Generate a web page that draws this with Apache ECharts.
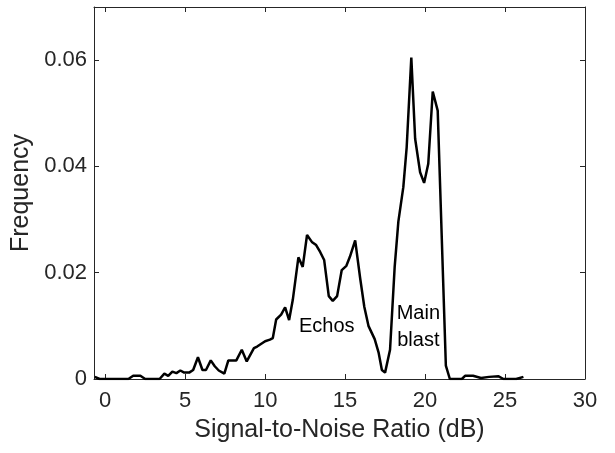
<!DOCTYPE html>
<html>
<head>
<meta charset="utf-8">
<script src="https://cdn.jsdelivr.net/npm/echarts/dist/echarts.min.js"></script>
<style>
  html, body { margin: 0; padding: 0; background: #fff; }
  #chart { width: 615px; height: 453px; }
</style>
</head>
<body>
<div id="chart"></div>
<script>
// SNR (dB) and frequency
var snr = [
  -0.65, -0.35, 1.45, 1.75, 2.2, 2.5, 3.4, 3.7, 3.94, 4.2,
  4.45, 4.7, 4.94, 5.25, 5.5, 5.8, 6.08, 6.3, 6.6, 6.85,
  7.1, 7.45, 7.7, 8.2, 8.54, 8.85, 9.3, 9.5, 10.0, 10.3,
  10.48, 10.69, 11.0, 11.25, 11.5, 11.73, 12.08, 12.35, 12.62, 12.92,
  13.19, 13.44, 13.69, 13.98, 14.23, 14.5, 14.79, 15.08, 15.3, 15.63,
  15.94, 16.2, 16.46, 16.85, 17.1, 17.3, 17.5, 17.81, 18.1, 18.33,
  18.64, 18.85, 19.14, 19.38, 19.69, 19.94, 20.2, 20.48, 20.79, 21.3,
  21.55, 22.3, 22.5, 23.0, 23.5, 24.0, 24.6, 24.9, 25.7, 26.15
];
var freq = [
  0.0004, 0, 0, 0.0006, 0.0006, 0, 0, 0.001, 0.0006, 0.0014,
  0.0011, 0.0016, 0.0012, 0.0012, 0.0017, 0.0041, 0.0017, 0.0017, 0.0035, 0.0024,
  0.0016, 0.001, 0.0035, 0.0035, 0.0055, 0.0033, 0.0058, 0.0061, 0.0071, 0.0074,
  0.0077, 0.0112, 0.0121, 0.0135, 0.0111, 0.0149, 0.0229, 0.0211, 0.0271, 0.0258,
  0.0252, 0.0239, 0.0224, 0.0156, 0.0147, 0.0156, 0.0205, 0.0213, 0.023, 0.0261,
  0.019, 0.0136, 0.01, 0.0075, 0.0049, 0.0017, 0.0012, 0.0055, 0.0211, 0.0296,
  0.0361, 0.0436, 0.0605, 0.0452, 0.0389, 0.0369, 0.0405, 0.0541, 0.0505, 0.0025,
  0, 0, 0.0006, 0.0006, 0.0002, 0.0004, 0.0005, 0, 0, 0.0004
];
var xTicks = [0, 5, 10, 15, 20, 25, 30];
var yTicks = [0, 0.02, 0.04, 0.06];
var notes = [
  { text: "Echos", x: 13.85, y: 0.0098 },
  { text: "Main\nblast", x: 19.58, y: 0.0097 }
];

var points = [];
for (var i = 0; i < snr.length; i++) {
  points.push([snr[i], freq[i]]);
}

var axisColor = "#262626";
var font = "Liberation Sans, Arial, Helvetica, sans-serif";

function xAx(pos, show) {
  return {
    type: "value", position: pos, min: -0.7, max: 30,
    name: show ? "Signal-to-Noise Ratio (dB)" : "",
    nameLocation: "middle", nameGap: 39,
    nameTextStyle: { color: axisColor, fontSize: 25, fontFamily: font },
    axisLine: { show: true, onZero: false, lineStyle: { color: axisColor, width: 1 } },
    axisTick: { show: true, inside: true, length: 5, customValues: xTicks, lineStyle: { color: axisColor } },
    axisLabel: { show: show, margin: 11, customValues: xTicks, color: axisColor, fontSize: 22, fontFamily: font },
    splitLine: { show: false }
  };
}
function yAx(pos, show) {
  return {
    type: "value", position: pos, min: 0, max: 0.07,
    name: show ? "Frequency" : "",
    nameLocation: "middle", nameGap: 59,
    nameTextStyle: { color: axisColor, fontSize: 25, fontFamily: font },
    axisLine: { show: true, onZero: false, lineStyle: { color: axisColor, width: 1 } },
    axisTick: { show: true, inside: true, length: 5, customValues: yTicks, lineStyle: { color: axisColor } },
    axisLabel: { show: show, margin: 7, customValues: yTicks, color: axisColor, fontSize: 22, fontFamily: font },
    splitLine: { show: false }
  };
}

var chart = echarts.init(document.getElementById("chart"));
chart.setOption({
  animation: false,
  grid: { left: 94, right: 30, top: 7, bottom: 74 },
  xAxis: [xAx("bottom", true), xAx("top", false)],
  yAxis: [yAx("left", true), yAx("right", false)],
  series: [
    {
      type: "line",
      data: points,
      showSymbol: false,
      symbol: "none",
      lineStyle: { color: "#000", width: 2.5 }
    }
  ]
});

// text notes placed at data positions
var g = notes.map(function (n) {
  var p = chart.convertToPixel({ xAxisIndex: 0, yAxisIndex: 0 }, [n.x, n.y]);
  return {
    type: "text", x: p[0], y: p[1],
    style: {
      text: n.text, fill: "#000", font: "20px " + font,
      align: "center", verticalAlign: "middle", lineHeight: 27
    }
  };
});
chart.setOption({ graphic: g });
</script>
</body>
</html>
